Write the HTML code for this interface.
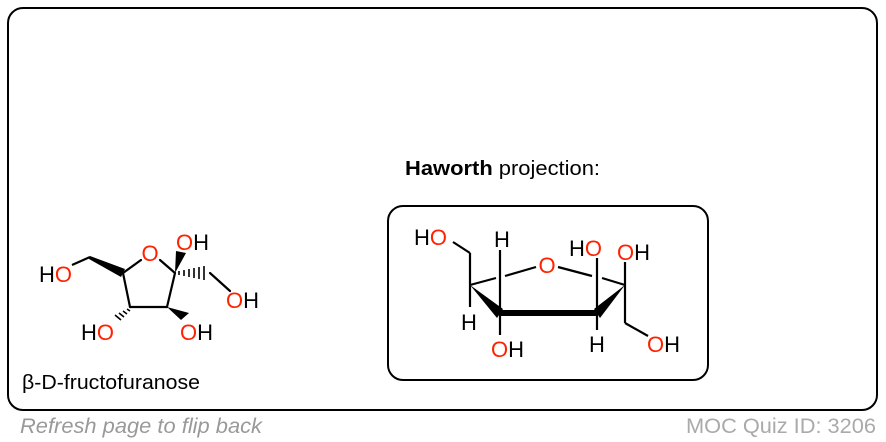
<!DOCTYPE html>
<html><head><meta charset="utf-8"><style>
html,body{margin:0;padding:0;background:#fff;}
svg{display:block;}
text{font-family:"Liberation Sans",Arial,sans-serif;}
</style></head><body>
<svg width="886" height="442" viewBox="0 0 886 442" xmlns="http://www.w3.org/2000/svg">
<rect x="8" y="8" width="869" height="402" rx="15" fill="#fff" stroke="#000" stroke-width="2"/>
<text x="20" y="433" font-size="21" font-style="italic" fill="#999" textLength="242" lengthAdjust="spacingAndGlyphs">Refresh page to flip back</text>
<text x="686" y="433" font-size="21" fill="#aaa" textLength="190" lengthAdjust="spacingAndGlyphs">MOC Quiz ID: 3206</text>
<text x="405" y="175" font-size="20.5" fill="#000" textLength="195" lengthAdjust="spacingAndGlyphs"><tspan font-weight="bold">Haworth</tspan> projection:</text>

<!-- left molecule -->
<g stroke="#000" stroke-width="2.2" fill="none" stroke-linecap="round">
<line x1="123" y1="273" x2="141" y2="260"/>
<line x1="160" y1="260" x2="175" y2="273"/>
<line x1="123" y1="273" x2="130" y2="307"/>
<line x1="130" y1="307" x2="167" y2="307"/>
<line x1="167" y1="307" x2="175" y2="273"/>
<line x1="210" y1="273" x2="230" y2="291"/>
</g>
<g fill="#000">
<polygon points="90,256 125,269 121,277 89,259"/>
<polygon points="175,273 176,251 186,253"/>
<polygon points="167,307 181,320 189,313"/>
</g>
<g stroke="#000" stroke-width="1.6">
<line x1="179" y1="271" x2="179" y2="275"/>
<line x1="184" y1="270" x2="184" y2="276"/>
<line x1="189" y1="269" x2="189" y2="277"/>
<line x1="194" y1="268" x2="194" y2="278"/>
<line x1="199" y1="267" x2="199" y2="279"/>
<line x1="204" y1="266" x2="204" y2="280"/>
<line x1="127" y1="309" x2="130" y2="311"/>
<line x1="123" y1="311" x2="127" y2="314"/>
<line x1="119" y1="313" x2="124" y2="317"/>
<line x1="115" y1="315" x2="121" y2="320"/>
</g>
<line x1="72" y1="265" x2="90" y2="257" stroke="#000" stroke-width="2.2"/>
<g font-size="22">
<text x="150" y="261" fill="#f20" text-anchor="middle">O</text>
<text x="39" y="282"><tspan fill="#000">H</tspan><tspan fill="#f20">O</tspan></text>
<text x="176" y="250"><tspan fill="#f20">O</tspan><tspan fill="#000">H</tspan></text>
<text x="226" y="308"><tspan fill="#f20">O</tspan><tspan fill="#000">H</tspan></text>
<text x="81" y="340"><tspan fill="#000">H</tspan><tspan fill="#f20">O</tspan></text>
<text x="180" y="340"><tspan fill="#f20">O</tspan><tspan fill="#000">H</tspan></text>
</g>
<text x="22" y="389" font-size="20.5" fill="#000" textLength="178" lengthAdjust="spacingAndGlyphs">β-D-fructofuranose</text>

<!-- Haworth -->
<rect x="388" y="206" width="320" height="174" rx="15" fill="#fff" stroke="#000" stroke-width="2"/>
<g stroke="#000" stroke-width="2.2" fill="none">
<line x1="453" y1="242" x2="470" y2="253"/>
<line x1="470" y1="253" x2="470" y2="285"/>
<line x1="470" y1="285" x2="470" y2="307"/>
<line x1="470" y1="285" x2="496" y2="278"/>
<line x1="505" y1="276" x2="536" y2="267"/>
<line x1="558" y1="267" x2="592" y2="276"/>
<line x1="602" y1="278" x2="625" y2="285"/>
<line x1="500" y1="313" x2="500" y2="250"/>
<line x1="500" y1="313" x2="500" y2="335"/>
<line x1="597" y1="313" x2="597" y2="258"/>
<line x1="597" y1="313" x2="597" y2="330"/>
<line x1="625" y1="285" x2="625" y2="262"/>
<line x1="625" y1="285" x2="625" y2="323"/>
<line x1="625" y1="323" x2="648" y2="336"/>
</g>
<g fill="#000">
<polygon points="470,285 503,309 497,318"/>
<rect x="500" y="310" width="97" height="6"/>
<polygon points="625,285 594,309 600,318"/>
</g>
<g font-size="22">
<text x="414" y="245"><tspan fill="#000">H</tspan><tspan fill="#f20">O</tspan></text>
<text x="502" y="247" fill="#000" text-anchor="middle">H</text>
<text x="547" y="273" fill="#f20" text-anchor="middle">O</text>
<text x="569" y="256"><tspan fill="#000">H</tspan><tspan fill="#f20">O</tspan></text>
<text x="617" y="260"><tspan fill="#f20">O</tspan><tspan fill="#000">H</tspan></text>
<text x="469" y="330" fill="#000" text-anchor="middle">H</text>
<text x="491" y="357"><tspan fill="#f20">O</tspan><tspan fill="#000">H</tspan></text>
<text x="597" y="352" fill="#000" text-anchor="middle">H</text>
<text x="647" y="352"><tspan fill="#f20">O</tspan><tspan fill="#000">H</tspan></text>
</g>
</svg>
</body></html>
